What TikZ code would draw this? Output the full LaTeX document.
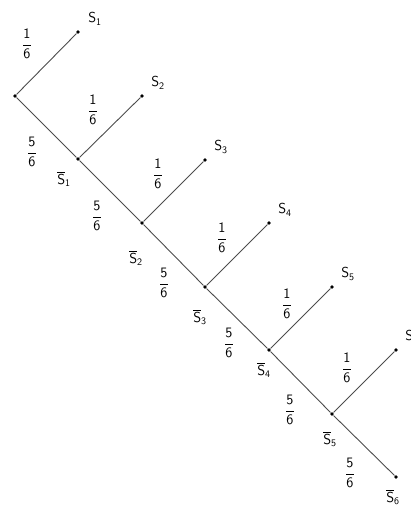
\documentclass[tikz,border=0pt]{standalone}
\usepackage{amsmath}
\usepackage{tikz}
\usetikzlibrary{calc, positioning}

\begin{document}
\begin{tikzpicture}[x=1pt, y=-1pt, font=\fontsize{14}{16}\selectfont,
  dot/.style={circle, fill=black, inner sep=1.4pt},
  branch/.style={line width=0.9pt, draw=black!70}]
  \useasboundingbox (0,0) rectangle (410,506);
  % nodes on the lower path
  \node[dot] (N0) at (15,96) {};
  \node[dot] (N1) at (78,159) {};
  \node[dot] (N2) at (142,223) {};
  \node[dot] (N3) at (205,287) {};
  \node[dot] (N4) at (269,350) {};
  \node[dot] (N5) at (332,414) {};
  \node[dot] (N6) at (396,477) {};
  % end points of the upper branches
  \node[dot] (S1) at (78,32) {};
  \node[dot] (S2) at (142,96) {};
  \node[dot] (S3) at (205,160) {};
  \node[dot] (S4) at (269,223) {};
  \node[dot] (S5) at (332,287) {};
  \node[dot] (S6) at (396,350) {};
  % branches
  \draw[branch] (N0) -- (S1);
  \draw[branch] (N0) -- (N1);
  \draw[branch] (N1) -- (S2);
  \draw[branch] (N1) -- (N2);
  \draw[branch] (N2) -- (S3);
  \draw[branch] (N2) -- (N3);
  \draw[branch] (N3) -- (S4);
  \draw[branch] (N3) -- (N4);
  \draw[branch] (N4) -- (S5);
  \draw[branch] (N4) -- (N5);
  \draw[branch] (N5) -- (S6);
  \draw[branch] (N5) -- (N6);
  % success labels
  \node (lS1) at (95,19) {$\mathsf{S}_{\mathsf{1}}$};
  \node (lS2) at (158,83) {$\mathsf{S}_{\mathsf{2}}$};
  \node (lS3) at (221,147) {$\mathsf{S}_{\mathsf{3}}$};
  \node (lS4) at (285,210) {$\mathsf{S}_{\mathsf{4}}$};
  \node (lS5) at (348,274) {$\mathsf{S}_{\mathsf{5}}$};
  \node (lS6) at (412,337) {$\mathsf{S}_{\mathsf{6}}$};
  % failure labels
  \node (lF1) at (64,179) {$\overline{\mathsf{S}}_{\mathsf{1}}$};
  \node (lF2) at (136,258) {$\overline{\mathsf{S}}_{\mathsf{2}}$};
  \node (lF3) at (200,317) {$\overline{\mathsf{S}}_{\mathsf{3}}$};
  \node (lF4) at (264,370) {$\overline{\mathsf{S}}_{\mathsf{4}}$};
  \node (lF5) at (330,439) {$\overline{\mathsf{S}}_{\mathsf{5}}$};
  \node (lF6) at (393,497) {$\overline{\mathsf{S}}_{\mathsf{6}}$};
  % probabilities, upper branches
  \node (p1) at (27,44) {$\dfrac{\mathsf{1}}{\mathsf{6}}$};
  \node (p2) at (93,110) {$\dfrac{\mathsf{1}}{\mathsf{6}}$};
  \node (p3) at (158,174) {$\dfrac{\mathsf{1}}{\mathsf{6}}$};
  \node (p4) at (222,238) {$\dfrac{\mathsf{1}}{\mathsf{6}}$};
  \node (p5) at (287,304) {$\dfrac{\mathsf{1}}{\mathsf{6}}$};
  \node (p6) at (347,368) {$\dfrac{\mathsf{1}}{\mathsf{6}}$};
  % probabilities, lower branches
  \node (q1) at (32,152) {$\dfrac{\mathsf{5}}{\mathsf{6}}$};
  \node (q2) at (97,216) {$\dfrac{\mathsf{5}}{\mathsf{6}}$};
  \node (q3) at (164,283) {$\dfrac{\mathsf{5}}{\mathsf{6}}$};
  \node (q4) at (229,343) {$\dfrac{\mathsf{5}}{\mathsf{6}}$};
  \node (q5) at (290,410) {$\dfrac{\mathsf{5}}{\mathsf{6}}$};
  \node (q6) at (350,473) {$\dfrac{\mathsf{5}}{\mathsf{6}}$};
\end{tikzpicture}
\end{document}
